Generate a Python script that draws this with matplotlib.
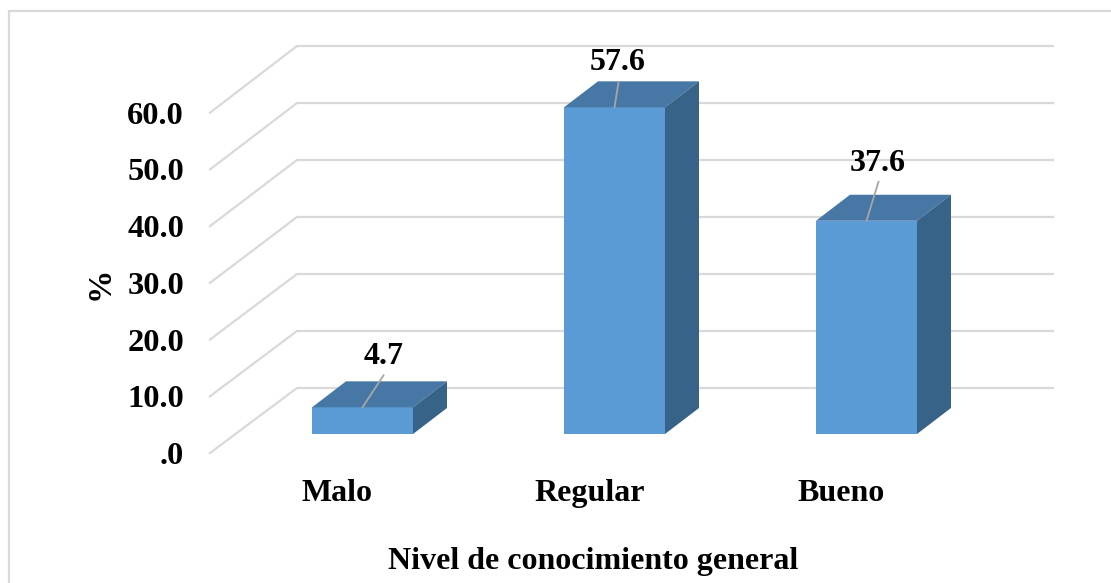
#! /usr/bin/env python

# 3D style column chart, drawn as flat polygons on one full figure axes

import matplotlib
matplotlib.use("Agg")
import matplotlib.pyplot as plt

# chart data
categories = ['Malo', 'Regular', 'Bueno']
values = [4.7, 57.6, 37.6]
value_labels = ['4.7', '57.6', '37.6']
grid_values = [0, 10, 20, 30, 40, 50, 60]
tick_labels = ['.0', '10.0', '20.0', '30.0', '40.0', '50.0', '60.0']
xlabel = 'Nivel de conocimiento general'
ylabel = '%'

# figure is 1111x583, axes fills it. x unit = one category, y unit = one percent
W, H = 1111, 583
px_x = 252.0  # pixels per category
px_y = 5.7    # pixels per percent
x0_px = 337.5 # pixel of x=0
y0_px = 453.0 # pixel of value 0 at the front of the floor
shrink = 0.995 # front plane is a bit smaller than the back wall

plt.rcParams['font.family'] = ['Liberation Serif', 'DejaVu Serif']

fig = plt.figure(figsize=(W / 100, H / 100), dpi=100)
ax = fig.add_axes([0, 0, 1, 1])
ax.set_xlim(-x0_px / px_x, (W - x0_px) / px_x)
ax.set_ylim((y0_px - H) / px_y, y0_px / px_y)
ax.axis('off')

# depth of the box, in data units
wall_dx = 87 / px_x
wall_dy = 65 / px_y
bar_w = 101 / px_x
bar_dx = 34 / px_x
bar_dy = 26 / px_y
base_dx = 25 / px_x
base_dy = 19 / px_y

# walls: floor diagonal plus back wall line for every grid value
grid_left = -127.5 / px_x
grid_right = 715.5 / px_x
for g, t in zip(grid_values, tick_labels):
    ax.plot([grid_left, grid_left + wall_dx, grid_right], [g * shrink, g + wall_dy, g + wall_dy],
            color='#d9d9d9', lw=1.6, solid_joinstyle='miter', zorder=1)
    ax.text(grid_left - 26 / px_x, g * shrink - 11 / px_y, t, ha='right', va='baseline',
            fontsize=23.4, fontweight='bold', color='black')

# bars
leader_dx = [21, 4, 12]
leader_dy = [32, 25, 39]
label_dx = [21, 3, 11]
label_dy = [43, 37, 50]
for i, v in enumerate(values):
    x1 = i + base_dx - bar_w / 2
    x2 = x1 + bar_w
    y1 = base_dy
    y2 = base_dy + v * shrink
    ax.fill([x1, x2, x2, x1], [y1, y1, y2, y2], color='#5b9bd5', lw=0, zorder=3)
    ax.fill([x1, x1 + bar_dx, x2 + bar_dx, x2], [y2, y2 + bar_dy, y2 + bar_dy, y2],
            color='#4677a5', lw=0, zorder=3)
    ax.fill([x2, x2 + bar_dx, x2 + bar_dx, x2], [y1, y1 + bar_dy, y2 + bar_dy, y2],
            color='#386389', lw=0, zorder=3)
    # leader line and value label
    cx = (x1 + x2) / 2
    ax.plot([cx, cx + leader_dx[i] / px_x], [y2, y2 + leader_dy[i] / px_y],
            color='#a6a6a6', lw=1.3, zorder=4)
    ax.text(cx + label_dx[i] / px_x, y2 + label_dy[i] / px_y, value_labels[i],
            ha='center', va='baseline', fontsize=23, fontweight='bold', color='black', zorder=5)
    ax.text(i, (y0_px - 501) / px_y, categories[i], ha='center', va='baseline',
            fontsize=23, fontweight='bold', color='black')

ax.text((593 - x0_px) / px_x, (y0_px - 569) / px_y, xlabel, ha='center', va='baseline',
        fontsize=23, fontweight='bold', color='black')
ax.text((100 - x0_px) / px_x, (y0_px - 283) / px_y, ylabel, ha='center', va='center',
        rotation=90, fontsize=24, fontweight='bold', color='black')

# chart border, right and bottom sides fall outside the picture
fig.add_artist(plt.Rectangle((9 / W, -5 / H), (W + 5 - 9) / W, (H + 5 - 10.5) / H, fill=False,
                             edgecolor='#d9d9d9', lw=1.6, transform=fig.transFigure))

plt.savefig('out.png', dpi=100)
